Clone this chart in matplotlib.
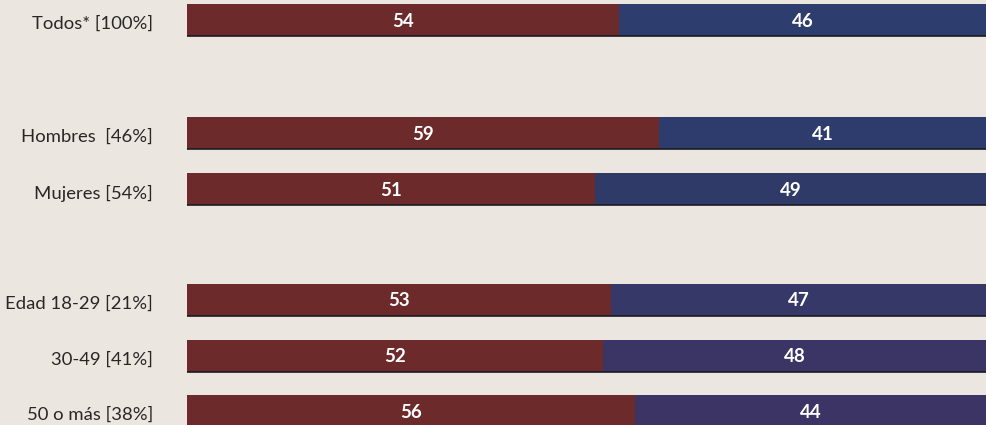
import matplotlib
matplotlib.use("Agg")
import matplotlib.pyplot as plt

categories = ["Todos* [100%]", "Hombres  [46%]", "Mujeres [54%]",
              "Edad 18-29 [21%]", "30-49 [41%]", "50 o más [38%]"]
series_a = [54, 59, 51, 53, 52, 56]
series_b = [46, 41, 49, 47, 48, 44]

# layout (pixel rows of each bar centre)
row_y = [20, 133, 189, 300, 356, 411]
bar_h = 32
color_a = "#6c2a2b"
color_b = ["#2c3d6e", "#2d3c6c", "#303a68", "#363868", "#3a3565", "#3c3464"]
bg = "#ebe6df"

W, H = 987, 425
fig = plt.figure(figsize=(W / 100, H / 100), dpi=100, facecolor=bg)
ax = fig.add_axes([187 / W, 0, 800 / W, 1])
ax.set_facecolor(bg)
ax.set_xlim(0, 100)
ax.set_ylim(H, 0)
ax.axis("off")

ax.barh(row_y, series_a, height=bar_h, color=color_a, edgecolor="none")
ax.barh(row_y, series_b, left=series_a, height=bar_h, color=color_b, edgecolor="none")
for y, a, b in zip(row_y, series_a, series_b):
    ax.plot([0, 100], [y + bar_h / 2, y + bar_h / 2], color="#1a1a22", lw=1.2)
    ax.text(a / 2, y + 1, str(a), color="white", ha="center", va="center",
            fontsize=13.5, fontweight="bold", family="Lato")
    ax.text(a + b / 2, y + 1, str(b), color="white", ha="center", va="center",
            fontsize=13.5, fontweight="bold", family="Lato")

for y, lab in zip(row_y, categories):
    fig.text(153 / W, 1 - (y + 4) / H, lab, ha="right", va="center",
             fontsize=13.3, color="#2a2626", family="Lato")

fig.savefig("out.png", dpi=100, facecolor=bg)
